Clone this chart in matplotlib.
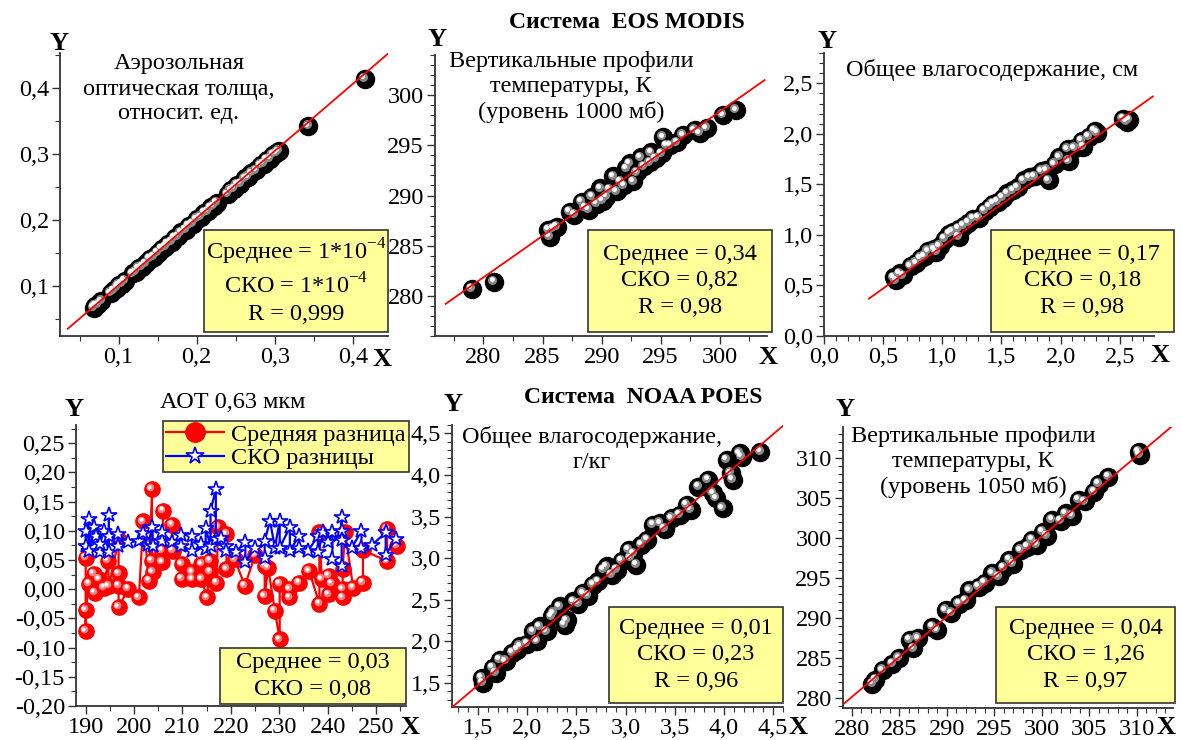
import matplotlib
matplotlib.use('Agg')
import matplotlib.pyplot as plt
from matplotlib.ticker import MultipleLocator, FuncFormatter
from matplotlib.patches import Rectangle
from matplotlib.transforms import offset_copy
from matplotlib.lines import Line2D

plt.rcParams['font.family'] = ['Liberation Serif', 'DejaVu Serif']
plt.rcParams['mathtext.fontset'] = 'custom'
plt.rcParams['mathtext.rm'] = 'Liberation Serif'

# --- data -------------------------------------------------------------
# EOS MODIS: aerosol optical depth
aod_x = [0.068, 0.070, 0.074, 0.078, 0.090, 0.094, 0.098, 0.100, 0.104, 0.108,
         0.118, 0.122, 0.126, 0.130, 0.135, 0.140, 0.145, 0.150, 0.155, 0.160,
         0.163, 0.168, 0.172, 0.176, 0.180, 0.186, 0.190, 0.195, 0.200, 0.205,
         0.210, 0.214, 0.218, 0.222, 0.226, 0.240, 0.244, 0.248, 0.252, 0.256,
         0.262, 0.266, 0.270, 0.276, 0.282, 0.286, 0.290, 0.294, 0.298, 0.302,
         0.305, 0.343, 0.415]
aod_y = [0.067, 0.070, 0.072, 0.077, 0.089, 0.093, 0.097, 0.101, 0.103, 0.108,
         0.119, 0.121, 0.127, 0.129, 0.134, 0.141, 0.144, 0.150, 0.156, 0.159,
         0.164, 0.167, 0.173, 0.175, 0.181, 0.185, 0.191, 0.194, 0.201, 0.204,
         0.211, 0.213, 0.219, 0.221, 0.226, 0.239, 0.245, 0.247, 0.253, 0.255,
         0.263, 0.265, 0.271, 0.275, 0.283, 0.285, 0.291, 0.293, 0.299, 0.301,
         0.304, 0.342, 0.414]
aod_fit_x = [0.035, 0.445]
aod_fit_y = [0.035, 0.452]

# EOS MODIS: temperature 1000 mb
t1000_x = [279.0, 280.9, 285.5, 285.6, 285.9, 286.2, 287.3, 287.7, 288.3, 288.6,
           288.9, 289.2, 289.6, 289.9, 290.1, 290.4, 290.7, 291.0, 291.3, 291.6,
           291.9, 292.1, 292.4, 292.7, 293.0, 293.3, 293.6, 294.1, 294.2, 294.6,
           295.1, 295.2, 295.5, 295.8, 296.4, 296.9, 297.9, 298.3, 298.9, 300.3, 301.4]
t1000_y = [280.7, 281.4, 286.6, 285.9, 286.7, 286.9, 288.4, 288.1, 289.4, 288.8,
           288.6, 289.9, 289.2, 290.7, 289.5, 289.9, 290.6, 291.9, 290.4, 291.4,
           291.0, 292.7, 293.2, 291.4, 292.3, 293.8, 292.9, 293.3, 294.3, 293.7,
           294.2, 295.8, 295.0, 295.0, 295.3, 296.0, 296.5, 296.2, 296.7, 298.0, 298.5]
t1000_fit_x = [276.8, 303.8]
t1000_fit_y = [279.2, 301.5]

# EOS MODIS: total water vapour, cm
wv_x = [0.59, 0.61, 0.64, 0.67, 0.735, 0.78, 0.82, 0.85, 0.88, 0.93, 0.95, 0.98,
        1.02, 1.06, 1.09, 1.14, 1.14, 1.18, 1.22, 1.26, 1.31, 1.36, 1.40, 1.43,
        1.47, 1.51, 1.55, 1.60, 1.64, 1.69, 1.74, 1.78, 1.84, 1.88, 1.90, 1.95,
        1.99, 2.06, 2.07, 2.12, 2.18, 2.19, 2.24, 2.29, 2.31, 2.53, 2.56, 2.58]
wv_y = [0.58, 0.55, 0.62, 0.60, 0.69, 0.72, 0.77, 0.79, 0.84, 0.86, 0.83, 0.89,
        0.96, 1.01, 1.03, 1.06, 0.98, 1.09, 1.12, 1.16, 1.17, 1.24, 1.28, 1.31,
        1.33, 1.37, 1.41, 1.44, 1.47, 1.54, 1.57, 1.58, 1.63, 1.64, 1.54, 1.70,
        1.77, 1.85, 1.73, 1.86, 1.93, 1.87, 1.97, 2.03, 2.01, 2.15, 2.12, 2.14]
wv_fit_x = [0.38, 2.78]
wv_fit_y = [0.37, 2.37]

# AOT 0.63 differences by day
mean_day = [190, 190, 190, 190.7, 191.7, 191.9, 192.8, 193.8, 194.6, 194.8,
            196.8, 196.8, 196.8, 196.8, 198.8, 201.0, 201.9, 203.1, 203.7, 203.7,
            203.9, 205.8, 205.8, 206.0, 207.9, 208.0, 209.9, 209.9, 212.0, 212.0,
            213.9, 213.9, 215.1, 215.7, 215.7, 217.0, 217.4, 219.1, 219.1, 220.8,
            222.9, 225.0, 227.0, 227.0, 227.7, 229.1, 230.1, 230.1, 232.1, 232.1,
            234.1, 236.2, 238.3, 238.3, 238.8, 240.2, 240.2, 240.9, 243.1, 243.1,
            243.1, 243.6, 245.3, 247.3, 247.3, 252.3, 252.3, 254.3]
mean_diff = [0.054, -0.072, -0.036, 0.009, 0.026, -0.006, 0.017, 0.002, 0.049, 0.005,
             0.085, 0.027, 0.006, -0.031, 0.001, -0.014, 0.116, 0.014, 0.171, 0.049,
             0.029, 0.066, 0.046, 0.134, 0.110, 0.066, 0.043, 0.018, 0.029, 0.017,
             0.043, 0.017, -0.014, 0.049, 0.030, 0.011, 0.106, 0.094, 0.034, 0.051,
             0.006, 0.058, 0.040, -0.012, 0.037, -0.037, -0.086, 0.009, 0.000, -0.014,
             0.011, 0.031, -0.025, 0.097, 0.017, 0.023, -0.009, 0.009, -0.014, 0.000,
             0.034, 0.097, 0.002, 0.011, 0.067, 0.048, 0.103, 0.074]
sko_day = [190, 190, 190.7, 190.7, 191.7, 192.2, 192.9, 192.9, 193.8, 194.8,
           194.8, 194.8, 196.7, 196.7, 198.8, 201.0, 201.9, 202.9, 203.8, 203.9,
           205.8, 205.8, 207.9, 209.8, 209.8, 211.9, 211.9, 213.9, 214.8, 214.8,
           215.8, 215.8, 216.9, 216.9, 217.9, 219.1, 219.1, 221.0, 223.0, 223.0,
           225.0, 227.0, 227.0, 228.1, 229.1, 230.1, 230.1, 232.2, 232.2, 234.1,
           234.1, 236.0, 238.0, 238.0, 239.1, 240.1, 241.0, 241.0, 242.9, 242.9,
           242.9, 242.9, 245.0, 247.0, 247.0, 249.1, 252.0, 252.0, 254.1]
sko_diff = [0.100, 0.074, 0.120, 0.066, 0.106, 0.091, 0.063, 0.077, 0.100, 0.063,
            0.127, 0.091, 0.074, 0.094, 0.080, 0.083, 0.096, 0.075, 0.106, 0.074,
            0.083, 0.097, 0.080, 0.092, 0.074, 0.066, 0.091, 0.077, 0.068, 0.104,
            0.074, 0.134, 0.171, 0.086, 0.087, 0.074, 0.066, 0.064, 0.080, 0.047,
            0.071, 0.054, 0.083, 0.117, 0.071, 0.117, 0.071, 0.106, 0.066, 0.091,
            0.071, 0.066, 0.091, 0.063, 0.097, 0.080, 0.097, 0.051, 0.040, 0.123,
            0.100, 0.085, 0.071, 0.100, 0.071, 0.075, 0.097, 0.059, 0.086]

# NOAA POES: total water vapour, g/kg
gk_x = [1.54, 1.55, 1.65, 1.68, 1.72, 1.78, 1.85, 1.90, 1.93, 2.00, 2.06, 2.10,
        2.13, 2.20, 2.25, 2.27, 2.33, 2.38, 2.40, 2.47, 2.52, 2.57, 2.62, 2.67,
        2.72, 2.78, 2.81, 2.86, 2.91, 2.96, 3.03, 3.05, 3.08, 3.11, 3.16, 3.22,
        3.28, 3.35, 3.40, 3.47, 3.55, 3.62, 3.66, 3.74, 3.84, 3.89, 3.92, 3.99,
        4.03, 4.07, 4.09, 4.16, 4.18, 4.37]
gk_y = [1.56, 1.50, 1.68, 1.62, 1.78, 1.76, 1.86, 1.90, 1.94, 1.97, 2.12, 2.00,
        2.18, 2.12, 2.30, 2.34, 2.42, 2.20, 2.25, 2.48, 2.45, 2.58, 2.55, 2.68,
        2.72, 2.86, 2.90, 2.80, 2.86, 2.97, 3.10, 3.00, 3.05, 2.92, 3.16, 3.22,
        3.40, 3.42, 3.35, 3.48, 3.52, 3.64, 3.58, 3.86, 3.94, 3.78, 3.72, 3.60,
        4.18, 4.02, 3.94, 4.26, 4.22, 4.28]
gk_fit_x = [1.20, 4.62]
gk_fit_y = [1.17, 4.61]

# NOAA POES: temperature 1050 mb
t1050_x = [282.2, 282.5, 283.3, 284.3, 285.0, 286.1, 286.5, 287.0, 288.5, 289.0,
           289.9, 290.5, 291.3, 292.0, 292.4, 293.4, 294.0, 294.8, 295.5, 296.0,
           296.6, 297.0, 297.8, 298.5, 299.0, 299.5, 300.1, 300.5, 301.1, 302.0,
           302.5, 303.2, 303.9, 304.5, 305.5, 306.0, 307.0, 310.2, 310.3]
t1050_y = [281.8, 282.3, 283.5, 284.3, 285.0, 287.3, 286.2, 287.5, 288.9, 288.5,
           291.0, 290.6, 291.8, 292.2, 293.5, 293.9, 294.4, 295.6, 295.2, 296.3,
           297.3, 296.8, 298.5, 298.9, 299.8, 299.2, 300.8, 300.3, 302.3, 302.2,
           303.1, 302.8, 304.8, 304.6, 305.8, 306.8, 307.7, 310.8, 310.4]
t1050_fit_x = [279.2, 313.6]
t1050_fit_y = [279.3, 313.9]

# --- figure -----------------------------------------------------------
W, H = 1182, 740
YELLOW = '#FFFF99'
FS = 17.5
fig = plt.figure(figsize=(W / 100, H / 100), dpi=100)


def fx(x):
    return x / W


def fy(y):
    return 1 - y / H


def make_axes(l, t, r, b):
    ax = fig.add_axes([l / W, 1 - b / H, (r - l) / W, (b - t) / H])
    ax.patch.set_alpha(0)
    for s in ['top', 'right']:
        ax.spines[s].set_visible(False)
    for s in ['left', 'bottom']:
        ax.spines[s].set_color('#333333')
        ax.spines[s].set_linewidth(1.3)
    ax.tick_params(which='both', direction='out', labelsize=FS, color='#333333', pad=2)
    ax.tick_params(which='major', length=6, width=1)
    ax.tick_params(which='minor', length=3.5, width=0.8)
    return ax


def comma_fmt(decimals):
    def f(v, pos):
        if abs(v) < 1e-9:
            v = 0.0
        return f'{v:.{decimals}f}'.replace('.', ',')
    return FuncFormatter(f)


def spheres(ax, x, y, size=13, color='black', mid='#8a8a8a', hi='white'):
    ax.plot(x, y, 'o', ms=size, mfc=color, mec=color, ls='none', zorder=3)
    t1 = offset_copy(ax.transData, fig=fig, x=-1.8, y=1.8, units='dots')
    ax.plot(x, y, 'o', ms=size * 0.5, mfc=mid, mec='none', ls='none', transform=t1, zorder=4)
    t2 = offset_copy(ax.transData, fig=fig, x=-2.5, y=2.5, units='dots')
    ax.plot(x, y, 'o', ms=size * 0.27, mfc=hi, mec='none', ls='none', transform=t2, zorder=5)


def stat_box(l, t, r, b, text):
    fig.add_artist(Rectangle((fx(l), fy(b)), (r - l) / W, (b - t) / H,
                             transform=fig.transFigure, facecolor=YELLOW,
                             edgecolor='#333333', lw=1.2, zorder=5))
    fig.text(fx((l + r) / 2), fy((t + b) / 2), text, ha='center', va='center',
             fontsize=FS, linespacing=1.32, zorder=6)


def xy_labels(yx, yy, xx, xy):
    fig.text(fx(yx), fy(yy), 'Y', ha='center', va='center', fontsize=19, fontweight='bold')
    fig.text(fx(xx), fy(xy), 'X', ha='center', va='center', fontsize=19, fontweight='bold')


# panel 1: AOD
ax1 = make_axes(60, 53, 388, 336)
spheres(ax1, aod_x, aod_y)
ax1.plot(aod_fit_x, aod_fit_y, color='red', lw=1.3, zorder=6)
ax1.set_xlim(0.025, 0.445)
ax1.set_ylim(0.024, 0.453)
ax1.xaxis.set_major_locator(MultipleLocator(0.1))
ax1.xaxis.set_minor_locator(MultipleLocator(0.05))
ax1.yaxis.set_major_locator(MultipleLocator(0.1))
ax1.yaxis.set_minor_locator(MultipleLocator(0.05))
ax1.xaxis.set_major_formatter(comma_fmt(1))
ax1.yaxis.set_major_formatter(comma_fmt(1))
fig.text(fx(179), fy(89), 'Аэрозольная\nоптическая толща,\nотносит. ед.',
         ha='center', va='center', fontsize=FS, linespacing=1.25)
stat_box(204, 230, 388, 332,
         'Среднее = 1*10$^{-4}$\nСКО = 1*10$^{-4}$\nR = 0,999')
xy_labels(59, 44, 382, 360)

# panel 2: T 1000 mb
ax2 = make_axes(435, 55, 767, 336)
spheres(ax2, t1000_x, t1000_y)
ax2.plot(t1000_fit_x, t1000_fit_y, color='red', lw=1.3, zorder=6)
ax2.set_xlim(275.9, 304.0)
ax2.set_ylim(276.0, 304.0)
ax2.xaxis.set_major_locator(MultipleLocator(5))
ax2.xaxis.set_minor_locator(MultipleLocator(2.5))
ax2.yaxis.set_major_locator(MultipleLocator(5))
ax2.yaxis.set_minor_locator(MultipleLocator(1))
fig.text(fx(571), fy(87), 'Вертикальные профили\nтемпературы, К\n(уровень 1000 мб)',
         ha='center', va='center', fontsize=FS, linespacing=1.25)
stat_box(588, 230, 772, 332, 'Среднее = 0,34\nСКО = 0,82\nR = 0,98')
xy_labels(437, 40, 768, 357)
fig.text(fx(627), fy(23), 'Система  EOS MODIS', ha='center', va='center',
         fontsize=17, fontweight='bold')

# panel 3: water vapour, cm
ax3 = make_axes(824, 53, 1154, 336)
spheres(ax3, wv_x, wv_y)
ax3.plot(wv_fit_x, wv_fit_y, color='red', lw=1.3, zorder=6)
ax3.set_xlim(0, 2.79)
ax3.set_ylim(0, 2.8)
ax3.xaxis.set_major_locator(MultipleLocator(0.5))
ax3.xaxis.set_minor_locator(MultipleLocator(0.1))
ax3.yaxis.set_major_locator(MultipleLocator(0.5))
ax3.yaxis.set_minor_locator(MultipleLocator(0.1))
ax3.xaxis.set_major_formatter(comma_fmt(1))
ax3.yaxis.set_major_formatter(comma_fmt(1))
fig.text(fx(992), fy(70), 'Общее влагосодержание, см',
         ha='center', va='center', fontsize=FS)
stat_box(991, 230, 1174, 332, 'Среднее = 0,17\nСКО = 0,18\nR = 0,98')
xy_labels(827, 42, 1160, 355)

# panel 4: AOT 0.63 differences
ax4 = make_axes(76, 425, 406, 706)
ax4.plot(mean_day, mean_diff, color='red', lw=1.6, zorder=3)
spheres(ax4, mean_day, mean_diff, size=11, color='red', mid='#ff8080', hi='white')
ax4.plot(sko_day, sko_diff, color='blue', lw=1.6, marker='*', ms=11.5, mfc='white',
         mec='blue', mew=1.2, zorder=7)
ax4.set_xlim(188.0, 256.2)
ax4.set_ylim(-0.20, 0.281)
ax4.xaxis.set_major_locator(MultipleLocator(10))
ax4.xaxis.set_minor_locator(MultipleLocator(5))
ax4.yaxis.set_major_locator(MultipleLocator(0.05))
ax4.yaxis.set_minor_locator(MultipleLocator(0.025))
ax4.yaxis.set_major_formatter(comma_fmt(2))
fig.text(fx(233), fy(403), 'АОТ 0,63 мкм', ha='center', va='center', fontsize=FS)
h_mean = Line2D([], [], color='red', lw=1.6, marker='o', ms=14, mfc='red', mec='red')
h_sko = Line2D([], [], color='blue', lw=1.6, marker='*', ms=13, mfc='white', mec='blue', mew=1.2)
leg = ax4.legend([h_mean, h_sko], ['Средняя разница', 'СКО разницы'],
                 loc='upper right', bbox_to_anchor=(fx(409), fy(421)),
                 bbox_transform=fig.transFigure, borderaxespad=0, fontsize=FS,
                 handlelength=2.4, handletextpad=0.3, borderpad=0.12,
                 labelspacing=0.05, fancybox=False, framealpha=1,
                 facecolor=YELLOW, edgecolor='#333333')
leg.get_frame().set_linewidth(1.2)
leg.set_zorder(10)
stat_box(220, 648, 406, 704, 'Среднее = 0,03\nСКО = 0,08')
xy_labels(74, 409, 410, 728)

# panel 5: water vapour g/kg
ax5 = make_axes(452, 425, 783, 707)
spheres(ax5, gk_x, gk_y)
ax5.plot(gk_fit_x, gk_fit_y, color='red', lw=1.3, zorder=6)
ax5.set_xlim(1.236, 4.6)
ax5.set_ylim(1.21, 4.6)
ax5.xaxis.set_major_locator(MultipleLocator(0.5))
ax5.xaxis.set_minor_locator(MultipleLocator(0.1))
ax5.yaxis.set_major_locator(MultipleLocator(0.5))
ax5.yaxis.set_minor_locator(MultipleLocator(0.1))
ax5.xaxis.set_major_formatter(comma_fmt(1))
ax5.yaxis.set_major_formatter(comma_fmt(1))
fig.text(fx(592), fy(450), 'Общее влагосодержание,\nг/кг',
         ha='center', va='center', fontsize=FS, linespacing=1.25)
stat_box(609, 607, 783, 703, 'Среднее = 0,01\nСКО = 0,23\nR = 0,96')
xy_labels(453, 405, 798, 728)
fig.text(fx(643), fy(398), 'Система  NOAA POES', ha='center', va='center',
         fontsize=17, fontweight='bold')

# panel 6: T 1050 mb
ax6 = make_axes(843, 427, 1173, 708)
spheres(ax6, t1050_x, t1050_y)
ax6.plot(t1050_fit_x, t1050_fit_y, color='red', lw=1.3, zorder=6)
ax6.set_xlim(279.1, 313.8)
ax6.set_ylim(278.75, 313.9)
ax6.xaxis.set_major_locator(MultipleLocator(5))
ax6.xaxis.set_minor_locator(MultipleLocator(1))
ax6.yaxis.set_major_locator(MultipleLocator(5))
ax6.yaxis.set_minor_locator(MultipleLocator(1))
fig.text(fx(973), fy(462), 'Вертикальные профили\nтемпературы, К\n(уровень 1050 мб)',
         ha='center', va='center', fontsize=FS, linespacing=1.25)
stat_box(996, 607, 1175, 703, 'Среднее = 0,04\nСКО = 1,26\nR = 0,97')
xy_labels(845, 410, 1166, 728)

fig.savefig('out.png', dpi=100)
